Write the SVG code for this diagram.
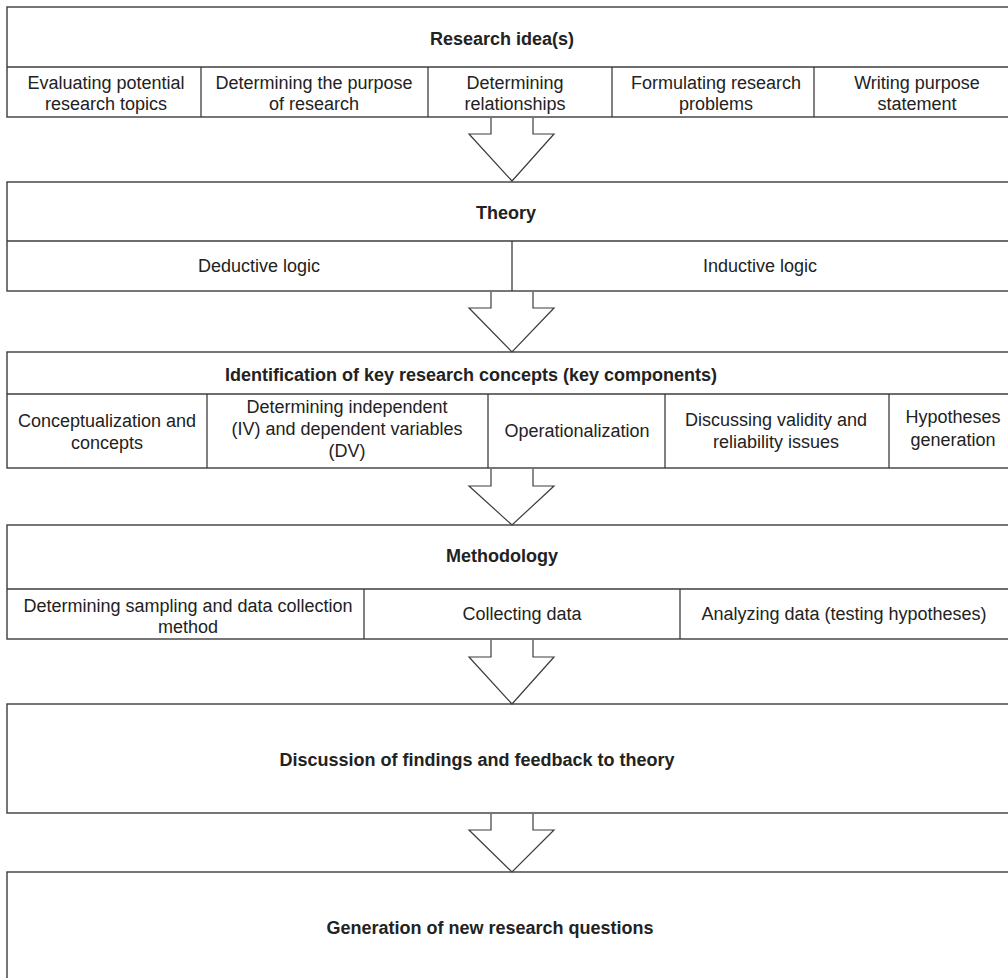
<svg xmlns="http://www.w3.org/2000/svg" width="1008" height="978" viewBox="0 0 1008 978">
<style>
.box{fill:#fff;stroke:#3c3c3c;stroke-width:1.4}
.ln{stroke:#3c3c3c;stroke-width:1.3;fill:none}
.arr{fill:#fff;stroke:#3c3c3c;stroke-width:1.2}
text{font-family:"Liberation Sans",Arial,sans-serif;font-size:18px;fill:#222;text-anchor:middle}
.h{font-weight:bold}
</style>
<rect width="1008" height="978" fill="#fff"/>
<g id="n1">
<rect class="box" x="7" y="7" width="1010" height="110"/>
<line class="ln" x1="7" y1="67" x2="1010" y2="67"/>
<line class="ln" x1="201" y1="67" x2="201" y2="117"/>
<line class="ln" x1="428" y1="67" x2="428" y2="117"/>
<line class="ln" x1="612" y1="67" x2="612" y2="117"/>
<line class="ln" x1="814" y1="67" x2="814" y2="117"/>
<text class="h" x="502" y="45">Research idea(s)</text>
<text x="106" y="89">Evaluating potential</text><text x="106" y="110">research topics</text>
<text x="314" y="89">Determining the purpose</text><text x="314" y="110">of research</text>
<text x="515" y="89">Determining</text><text x="515" y="110">relationships</text>
<text x="716" y="89">Formulating research</text><text x="716" y="110">problems</text>
<text x="917" y="89">Writing purpose</text><text x="917" y="110">statement</text>
</g>
<g id="n2">
<rect class="box" x="7" y="182" width="1010" height="109"/>
<line class="ln" x1="7" y1="241" x2="1010" y2="241"/>
<line class="ln" x1="512" y1="241" x2="512" y2="291"/>
<text class="h" x="506" y="219">Theory</text>
<text x="259" y="272">Deductive logic</text>
<text x="760" y="272">Inductive logic</text>
</g>
<g id="n3">
<rect class="box" x="7" y="352" width="1010" height="116"/>
<line class="ln" x1="7" y1="394" x2="1010" y2="394"/>
<line class="ln" x1="207" y1="394" x2="207" y2="468"/>
<line class="ln" x1="488" y1="394" x2="488" y2="468"/>
<line class="ln" x1="665" y1="394" x2="665" y2="468"/>
<line class="ln" x1="889" y1="394" x2="889" y2="468"/>
<text class="h" x="471" y="381">Identification of key research concepts (key components)</text>
<text x="107" y="427">Conceptualization and</text><text x="107" y="449">concepts</text>
<text x="347" y="413">Determining independent</text><text x="347" y="435">(IV) and dependent variables</text><text x="347" y="457">(DV)</text>
<text x="577" y="437">Operationalization</text>
<text x="776" y="426">Discussing validity and</text><text x="776" y="448">reliability issues</text>
<text x="953" y="423">Hypotheses</text><text x="953" y="446">generation</text>
</g>
<g id="n4">
<rect class="box" x="7" y="525" width="1010" height="114"/>
<line class="ln" x1="7" y1="589" x2="1010" y2="589"/>
<line class="ln" x1="364" y1="589" x2="364" y2="639"/>
<line class="ln" x1="680" y1="589" x2="680" y2="639"/>
<text class="h" x="502" y="562">Methodology</text>
<text x="188" y="612">Determining sampling and data collection</text><text x="188" y="633">method</text>
<text x="522" y="620">Collecting data</text>
<text x="844" y="620">Analyzing data (testing hypotheses)</text>
</g>
<g id="n5">
<rect class="box" x="7" y="704" width="1010" height="109"/>
<text class="h" x="477" y="766">Discussion of findings and feedback to theory</text>
</g>
<g id="n6">
<rect class="box" x="7" y="872" width="1010" height="120"/>
<text class="h" x="490" y="934">Generation of new research questions</text>
</g>
<g id="connectors">
<polyline class="arr" points="491,118 491,134 469,134 512,181 554,134 533,134 533,118"/>
<polyline class="arr" points="491,292 491,308 469,308 512,352 554,308 533,308 533,292"/>
<polyline class="arr" points="491,469 491,486 469,486 512,525 554,486 533,486 533,469"/>
<polyline class="arr" points="491,640 491,657 469,657 512,704 554,657 533,657 533,640"/>
<polyline class="arr" points="491,814 491,830 469,830 512,872 554,830 533,830 533,814"/>
</g>
</svg>
